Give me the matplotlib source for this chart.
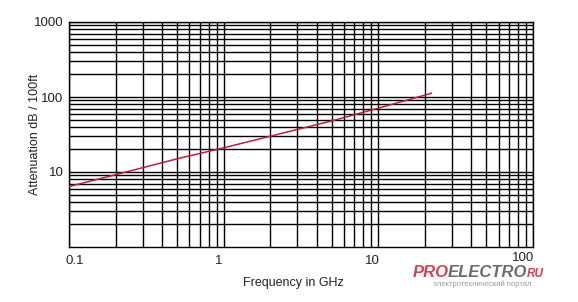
import numpy as np
import matplotlib.pyplot as plt
from matplotlib.ticker import LogLocator, NullFormatter, FixedLocator
from matplotlib.transforms import ScaledTranslation

plt.rcParams['font.family'] = ['Liberation Sans', 'DejaVu Sans']

# attenuation curve
freq_ghz = [0.1, 0.2, 0.5, 1, 2, 5, 10, 22]
atten_db = [6.4, 9.2, 15, 21, 30, 48, 71, 112]

x_ticks = [0.1, 1, 10, 100]
x_labels = ['0.1', '1', '10', '100']
y_ticks = [10, 100, 1000]
y_labels = ['10', '100', '1000']

fig = plt.figure(figsize=(5.78, 3.02), dpi=100)
ax = fig.add_axes([69/578, 1 - 247/302, 464/578, 225/302])

ax.plot(freq_ghz, atten_db, color='#b8213f', lw=1.1, zorder=3)

ax.set_xscale('log')
ax.set_yscale('log')
ax.set_xlim(0.1, 100)
ax.set_ylim(1, 1000)

ax.xaxis.set_major_locator(FixedLocator(x_ticks))
ax.set_xticklabels(x_labels)
ax.yaxis.set_major_locator(FixedLocator(y_ticks))
ax.set_yticklabels(y_labels)
ax.xaxis.set_minor_locator(LogLocator(base=10, subs=np.arange(2, 10)))
ax.yaxis.set_minor_locator(LogLocator(base=10, subs=np.arange(2, 10)))
ax.xaxis.set_minor_formatter(NullFormatter())
ax.yaxis.set_minor_formatter(NullFormatter())

ax.grid(True, which='both', color='black', lw=1.0)
ax.tick_params(which='both', length=0, labelsize=9.5, colors='#222222')
ax.tick_params(axis='x', pad=6)
ax.tick_params(axis='y', pad=4)
for s in ax.spines.values():
    s.set_color('black')
    s.set_linewidth(1.0)

# x labels in the original sit a few pixels off their gridlines
shifts = [6, -5, -6, -10]
for lab, dx in zip(ax.get_xticklabels(), shifts):
    lab.set_transform(lab.get_transform() + ScaledTranslation(dx / 100, 0, fig.dpi_scale_trans))
ax.get_xticklabels()[-1].set_transform(ax.get_xticklabels()[-1].get_transform()
                                       + ScaledTranslation(0, 3 / 100, fig.dpi_scale_trans))

fig.text(35/578, 1 - 134/302, 'Attenuation dB / 100ft', rotation=90,
         ha='center', va='center', fontsize=9, color='#222222')
fig.text(293/578, 1 - 283/302, 'Frequency in GHz', ha='center', va='center',
         fontsize=9, color='#222222')

# watermark, pieces placed one after another
fig.canvas.draw()
r = fig.canvas.get_renderer()
x0 = 413
parts = [('PRO', '#d9404f', 12), ('ELECTRO', '#6b6b6b', 12), ('RU', '#d9404f', 8.5)]
for txt, col, fs in parts:
    t = fig.text(x0/578, 1 - 277/302, txt, ha='left', va='baseline', fontsize=fs,
                 fontweight='bold', style='italic', color=col)
    x0 += t.get_window_extent(r).width - 1
fig.text(482/578, 1 - 284/302, 'электротехнический портал', ha='center',
         va='center', fontsize=5.5, color='#9a9a9a')

fig.savefig('out.png', dpi=100)
